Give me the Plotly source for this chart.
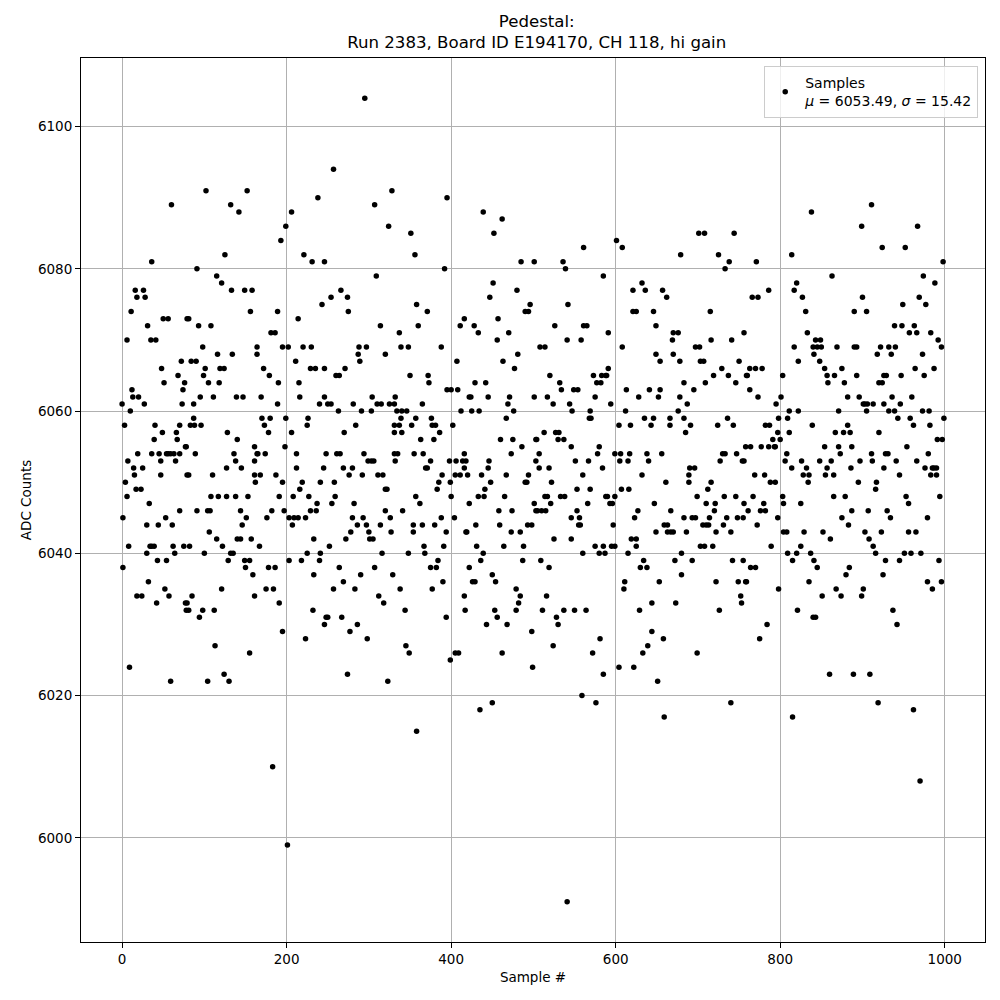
import plotly.graph_objects as go

# (sample #, ADC counts), grouped by sample range
seg_000 = [(60,6089),(36,6081),(16,6077),(26,6077),(18,6076),(28,6076),(11,6074),(31,6072),(6,6070),(50,6073),
           (56,6073),(79,6073),(35,6070),(41,6070),(72,6067),(48,6066),(68,6065),(76,6064),(74,6063),(51,6064),
           (12,6063),(13,6062),(20,6062),(27,6061),(0,6061),(10,6060),(73,6061),(3,6058),(40,6058),(70,6058),
           (49,6057),(66,6057),(39,6056),(67,6056),(77,6055),(7,6053),(14,6052),(19,6054),(25,6052),(15,6051),
           (36,6054),(45,6054),(47,6053),(54,6054),(56,6054),(59,6054),(63,6054),(70,6054),(65,6053),(47,6051),
           (79,6051),(4,6050),(6,6048),(17,6049),(23,6049),(1,6045),(33,6047),(70,6046),(30,6044),(44,6044),
           (53,6045),(61,6044),(8,6041),(34,6041),(36,6041),(39,6041),(30,6040),(62,6041),(64,6040),(75,6041),
           (1,6038),(43,6039),(54,6039),(32,6036),(18,6034),(24,6034),(52,6035),(57,6034),(42,6033),(77,6033),
           (78,6032),(9,6024),(59,6022)]
seg_080 = [(102,6091),(152,6091),(132,6089),(142,6088),(125,6082),(91,6080),(115,6079),(121,6078),(133,6077),(149,6077),
           (158,6077),(156,6074),(81,6073),(93,6072),(108,6072),(98,6069),(116,6068),(134,6068),(164,6069),(164,6068),
           (84,6067),(90,6067),(101,6066),(119,6066),(124,6066),(99,6065),(105,6064),(118,6064),(95,6062),(111,6062),
           (139,6062),(147,6062),(87,6061),(83,6058),(88,6058),(96,6058),(87,6059),(128,6057),(78,6055),(140,6056),
           (89,6054),(136,6054),(138,6053),(161,6053),(164,6054),(81,6051),(110,6051),(127,6052),(145,6052),(161,6051),
           (162,6050),(108,6048),(117,6048),(127,6048),(138,6048),(153,6048),(91,6046),(104,6046),(107,6046),(144,6046),
           (146,6044),(151,6045),(106,6043),(115,6042),(122,6041),(140,6042),(144,6042),(157,6042),(82,6041),(100,6040),
           (129,6039),(132,6040),(135,6040),(149,6039),(155,6039),(150,6038),(159,6037),(121,6035),(161,6034),(85,6034),
           (79,6033),(81,6032),(98,6032),(94,6031),(112,6032),(113,6027),(155,6026),(124,6023),(130,6022),(104,6022)]
seg_165 = [(238,6090),(206,6088),(199,6086),(193,6084),(221,6082),(231,6081),(246,6081),(243,6075),(189,6074),(214,6073),
           (181,6071),(186,6071),(195,6069),(202,6069),(220,6069),(230,6069),(211,6067),(172,6066),(229,6066),(235,6066),
           (246,6066),(179,6065),(190,6064),(215,6064),(169,6062),(216,6062),(246,6062),(189,6061),(240,6061),(170,6059),
           (180,6059),(199,6059),(226,6059),(173,6058),(225,6058),(178,6057),(206,6057),(198,6055),(161,6055),(165,6054),
           (174,6054),(212,6054),(248,6054),(245,6052),(212,6052),(168,6051),(187,6051),(195,6050),(219,6050),(241,6050),
           (216,6049),(191,6048),(208,6048),(227,6048),(237,6047),(182,6046),(197,6046),(229,6046),(236,6046),(176,6045),
           (203,6045),(209,6045),(214,6045),(223,6045),(207,6044),(233,6042),(167,6041),(225,6040),(241,6040),(203,6039),
           (218,6039),(240,6039),(178,6038),(186,6038),(233,6037),(175,6035),(184,6035),(191,6033),(232,6032),(246,6030),
           (248,6031),(195,6029),(223,6028),(183,6010),(201,5999)]
seg_250 = [(295,6104),(257,6094),(307,6089),(328,6091),(324,6086),(309,6079),(254,6076),(266,6077),(274,6076),(275,6074),
           (314,6072),(288,6069),(297,6069),(287,6068),(289,6067),(320,6068),(260,6065),(264,6065),(271,6066),(304,6062),
           (250,6061),(254,6061),(263,6060),(281,6061),(291,6060),(303,6060),(310,6061),(315,6061),(325,6061),(331,6061),
           (332,6062),(284,6058),(270,6057),(331,6058),(331,6057),(261,6054),(265,6054),(294,6054),(299,6053),(303,6053),
           (306,6053),(331,6054),(332,6053),(269,6052),(280,6052),(276,6051),(292,6051),(311,6051),(317,6051),(258,6050),
           (320,6049),(322,6049),(259,6048),(255,6047),(282,6047),(320,6046),(280,6045),(293,6045),(326,6045),(286,6044),
           (297,6044),(314,6044),(278,6043),(300,6043),(327,6043),(272,6042),(301,6042),(305,6042),(252,6041),(316,6040),
           (264,6038),(307,6038),(269,6036),(257,6035),(283,6035),(290,6037),(329,6037),(312,6034),(318,6033),(250,6031),
           (267,6031),(286,6030),(277,6029),(298,6028),(274,6023),(323,6022)]
seg_335 = [(395,6090),(351,6085),(356,6082),(392,6080),(358,6075),(371,6074),(360,6072),(411,6072),(416,6073),(337,6071),
           (339,6069),(348,6069),(388,6069),(407,6067),(350,6065),(372,6065),(373,6064),(395,6063),(400,6063),(408,6063),
           (365,6061),(334,6060),(340,6060),(346,6060),(412,6060),(339,6059),(357,6059),(376,6059),(337,6058),(352,6058),
           (377,6058),(381,6058),(402,6058),(340,6057),(386,6057),(363,6056),(379,6056),(335,6054),(355,6054),(366,6054),
           (416,6054),(369,6052),(371,6052),(375,6053),(398,6053),(406,6053),(414,6053),(418,6053),(416,6052),(389,6051),
           (405,6051),(411,6051),(385,6050),(383,6049),(399,6050),(357,6048),(400,6048),(362,6047),(341,6046),(388,6045),
           (404,6045),(354,6044),(365,6044),(380,6044),(354,6043),(394,6043),(418,6043),(367,6041),(391,6041),(348,6040),
           (368,6040),(384,6039),(375,6038),(382,6038),(390,6036),(338,6035),(377,6035),(416,6034),(344,6032),(417,6032),
           (394,6031),(345,6027),(349,6026),(399,6025),(405,6026),(409,6026),(358,6015)]
seg_420 = [(439,6088),(462,6087),(452,6085),(485,6081),(501,6081),(451,6078),(447,6076),(480,6077),(496,6075),(490,6074),
           (494,6074),(428,6072),(433,6071),(457,6073),(456,6070),(470,6071),(463,6067),(481,6068),(477,6066),(429,6064),
           (442,6064),(422,6062),(424,6062),(445,6062),(471,6062),(469,6061),(501,6062),(425,6060),(434,6060),(476,6060),
           (467,6059),(460,6056),(475,6056),(486,6055),(503,6056),(473,6054),(446,6053),(445,6052),(503,6053),(420,6051),
           (437,6051),(467,6051),(494,6051),(448,6050),(490,6050),(492,6050),(441,6049),(433,6048),(440,6048),(465,6048),
           (422,6047),(501,6047),(458,6046),(474,6046),(503,6046),(430,6044),(459,6044),(493,6044),(498,6044),(419,6043),
           (473,6043),(484,6043),(431,6041),(464,6041),(488,6041),(439,6040),(436,6039),(487,6039),(422,6038),(450,6037),
           (454,6036),(426,6036),(429,6036),(479,6035),(484,6034),(482,6033),(479,6032),(453,6032),(456,6031),(443,6030),
           (468,6030),(498,6029),(462,6026),(499,6024),(435,6018),(450,6019)]
seg_505 = [(561,6083),(536,6081),(539,6080),(585,6079),(542,6075),(526,6072),(561,6072),(565,6072),(541,6070),(558,6070),
           (508,6069),(514,6069),(520,6065),(573,6065),(583,6065),(588,6065),(532,6064),(577,6064),(582,6064),(534,6063),
           (549,6063),(554,6063),(517,6062),(575,6062),(524,6061),(544,6061),(547,6060),(569,6060),(568,6059),(570,6059),
           (513,6057),(527,6057),(531,6057),(504,6056),(530,6056),(537,6056),(546,6055),(580,6055),(507,6054),(578,6054),
           (551,6053),(567,6053),(507,6052),(519,6052),(584,6052),(560,6051),(522,6050),(517,6048),(533,6048),(538,6048),
           (588,6048),(514,6048),(553,6049),(569,6049),(521,6047),(566,6047),(505,6046),(510,6046),(515,6046),(553,6046),
           (546,6045),(556,6045),(555,6044),(557,6044),(525,6042),(546,6042),(575,6041),(585,6041),(560,6040),(580,6040),
           (587,6040),(509,6039),(519,6038),(516,6034),(511,6032),(537,6032),(550,6032),(564,6032),(528,6031),(530,6030),
           (581,6028),(524,6027),(572,6026),(585,6023),(559,6020),(576,6019),(541,5991)]
seg_590 = [(601,6084),(608,6083),(632,6078),(621,6077),(636,6077),(657,6077),(662,6076),(621,6074),(625,6074),(646,6074),
           (649,6072),(591,6071),(608,6069),(670,6071),(669,6070),(649,6068),(654,6067),(670,6068),(591,6066),(589,6065),
           (613,6063),(641,6063),(654,6063),(628,6062),(652,6062),(594,6061),(612,6060),(635,6059),(646,6059),(666,6059),
           (604,6058),(618,6058),(643,6058),(666,6058),(599,6054),(606,6054),(617,6054),(638,6054),(656,6054),(605,6053),
           (615,6053),(640,6053),(632,6051),(661,6050),(607,6049),(616,6049),(590,6048),(599,6048),(593,6047),(596,6047),
           (647,6047),(627,6046),(667,6046),(623,6045),(597,6044),(659,6044),(663,6044),(649,6043),(663,6043),(667,6043),
           (670,6043),(619,6042),(625,6042),(595,6041),(599,6041),(625,6041),(615,6040),(634,6039),(672,6039),(630,6038),
           (638,6038),(653,6036),(611,6036),(610,6035),(644,6033),(673,6033),(629,6032),(644,6029),(658,6028),(639,6027),
           (633,6026),(604,6024),(622,6024),(651,6022),(659,6017)]
seg_675 = [(701,6085),(708,6085),(744,6085),(679,6082),(725,6082),(738,6081),(733,6080),(715,6074),(676,6071),(756,6071),
           (697,6069),(702,6069),(716,6070),(741,6070),(678,6067),(703,6067),(707,6067),(750,6067),(729,6066),(719,6065),
           (737,6065),(683,6064),(709,6064),(746,6064),(695,6063),(759,6065),(678,6062),(687,6061),(676,6060),(683,6059),
           (736,6059),(691,6058),(724,6058),(743,6058),(685,6057),(730,6054),(733,6054),(747,6054),(727,6053),(754,6053),
           (756,6053),(690,6052),(696,6052),(689,6051),(689,6050),(716,6050),(699,6048),(712,6049),(732,6048),(746,6048),
           (710,6047),(721,6047),(720,6046),(714,6045),(735,6045),(748,6045),(755,6045),(683,6045),(693,6045),(697,6045),
           (706,6044),(710,6044),(713,6044),(731,6044),(686,6043),(722,6043),(740,6043),(703,6041),(708,6041),(718,6041),
           (680,6040),(693,6039),(742,6039),(755,6039),(680,6037),(722,6036),(749,6036),(758,6036),(752,6034),(753,6033),
           (726,6032),(699,6026),(740,6019)]
seg_760 = [(838,6088),(771,6081),(814,6082),(820,6078),(827,6076),(817,6077),(831,6074),(766,6076),(773,6076),(786,6077),
           (833,6071),(817,6069),(822,6067),(840,6069),(841,6068),(763,6066),(770,6066),(778,6066),(760,6065),(763,6063),
           (803,6065),(773,6062),(795,6061),(801,6062),(798,6059),(809,6059),(811,6060),(822,6060),(782,6058),(787,6058),
           (797,6057),(839,6058),(791,6056),(800,6056),(811,6057),(764,6055),(777,6055),(786,6055),(793,6055),(794,6055),
           (808,6054),(806,6053),(826,6053),(832,6052),(828,6051),(769,6051),(781,6051),(814,6052),(788,6050),(794,6050),
           (835,6051),(834,6050),(803,6048),(804,6047),(767,6048),(780,6047),(782,6046),(776,6046),(761,6046),(797,6045),
           (825,6047),(772,6044),(804,6043),(808,6043),(789,6041),(829,6043),(825,6041),(809,6040),(820,6040),(837,6040),
           (815,6039),(841,6039),(764,6038),(770,6038),(759,6036),(835,6036),(798,6035),(821,6032),(840,6031),(784,6030),
           (775,6028),(815,6017),(758,6055),(756,6047)]
seg_843 = [(911,6089),(899,6086),(924,6083),(863,6079),(900,6076),(890,6074),(905,6074),(849,6070),(843,6070),(845,6069),
           (850,6069),(848,6067),(854,6066),(869,6069),(890,6069),(893,6069),(918,6068),(922,6069),(857,6065),(858,6064),
           (866,6065),(875,6066),(878,6064),(893,6065),(882,6062),(896,6062),(901,6061),(903,6061),(906,6061),(913,6061),
           (926,6061),(920,6064),(924,6064),(926,6065),(905,6060),(871,6060),(867,6057),(877,6057),(885,6057),(882,6058),
           (920,6057),(854,6055),(871,6055),(873,6054),(887,6055),(848,6053),(862,6053),(857,6052),(855,6051),(865,6051),
           (897,6053),(911,6054),(912,6053),(886,6052),(917,6050),(916,6049),(926,6052),(895,6050),(865,6048),(879,6048),
           (887,6046),(907,6046),(875,6045),(883,6044),(852,6043),(861,6042),(903,6043),(908,6042),(913,6041),(916,6040),
           (923,6043),(845,6038),(884,6038),(880,6037),(925,6037),(851,6034),(868,6035),(874,6034),(901,6035),(899,6034),
           (843,6031),(860,6023),(889,6023),(909,6023),(919,6019)]
seg_928 = [(967,6086),(952,6083),(998,6081),(974,6079),(988,6078),(969,6076),(977,6075),(949,6075),(939,6072),(948,6072),
           (963,6072),(957,6071),(966,6071),(983,6071),(992,6070),(996,6069),(932,6069),(940,6069),(935,6068),(973,6068),
           (964,6066),(987,6066),(929,6065),(947,6065),(975,6065),(960,6062),(936,6062),(946,6061),(932,6060),(939,6060),
           (943,6059),(958,6059),(962,6058),(973,6060),(981,6060),(982,6058),(999,6059),(991,6056),(997,6056),(954,6055),
           (931,6054),(941,6053),(945,6051),(966,6053),(980,6054),(976,6052),(985,6052),(987,6052),(990,6052),(983,6051),
           (990,6051),(994,6048),(953,6048),(956,6047),(930,6046),(934,6045),(979,6045),(956,6043),(965,6043),(951,6040),
           (959,6040),(971,6040),(993,6039),(945,6039),(979,6036),(985,6035),(996,6036),(937,6032),(942,6030),(962,6018),
           (970,6008),(928,6054),(928,6039)]

segments = [seg_000, seg_080, seg_165, seg_250, seg_335, seg_420,
            seg_505, seg_590, seg_675, seg_760, seg_843, seg_928]
sample_no = [p[0] for seg in segments for p in seg]
adc_counts = [p[1] for seg in segments for p in seg]

title_lines = ["Pedestal:", "Run 2383, Board ID E194170, CH 118, hi gain"]
legend_label = "Samples<br><i>μ</i> = 6053.49, <i>σ</i> = 15.42"
x_ticks = [0, 200, 400, 600, 800, 1000]
y_ticks = [6000, 6020, 6040, 6060, 6080, 6100]

FONT = "DejaVu Sans"

fig = go.Figure()
fig.add_trace(go.Scatter(
    x=sample_no, y=adc_counts, mode="markers", name=legend_label,
    marker=dict(color="black", size=5.5, line=dict(width=0)),
    showlegend=True,
))

axis_common = dict(
    showline=True, mirror=True, linecolor="black", linewidth=1,
    ticks="outside", ticklen=5, tickwidth=1, tickcolor="black",
    showgrid=True, gridcolor="#b0b0b0", gridwidth=1, zeroline=False,
    tickfont=dict(family=FONT, size=13.5, color="black"),
    automargin=False,
)

# The page body adds an 8px offset, so the figure is 992px and margins are shifted
fig.update_layout(
    width=992, height=992,
    margin=dict(l=73, r=15, t=50, b=58, autoexpand=False),
    plot_bgcolor="white", paper_bgcolor="white",
    font=dict(family=FONT, color="black"),
    title=dict(text="<br>".join(title_lines), x=0.533, xanchor="center",
               yref="container", y=0.981, yanchor="top",
               font=dict(family=FONT, size=16.6, color="black")),
    xaxis=dict(range=[-49.95, 1048.95], tickvals=x_ticks,
               title=dict(text="Sample #", font=dict(family=FONT, size=13.5), standoff=6),
               **axis_common),
    yaxis=dict(range=[5985.35, 6109.65], tickvals=y_ticks,
               title=dict(text="ADC Counts", font=dict(family=FONT, size=13.5), standoff=3),
               **axis_common),
    legend=dict(x=0.9925, y=0.991, xanchor="right", yanchor="top",
                bgcolor="rgba(255,255,255,0.8)", bordercolor="#cccccc", borderwidth=1,
                font=dict(family=FONT, size=14, color="black"), valign="middle"),
)

fig.write_html("out.html")
